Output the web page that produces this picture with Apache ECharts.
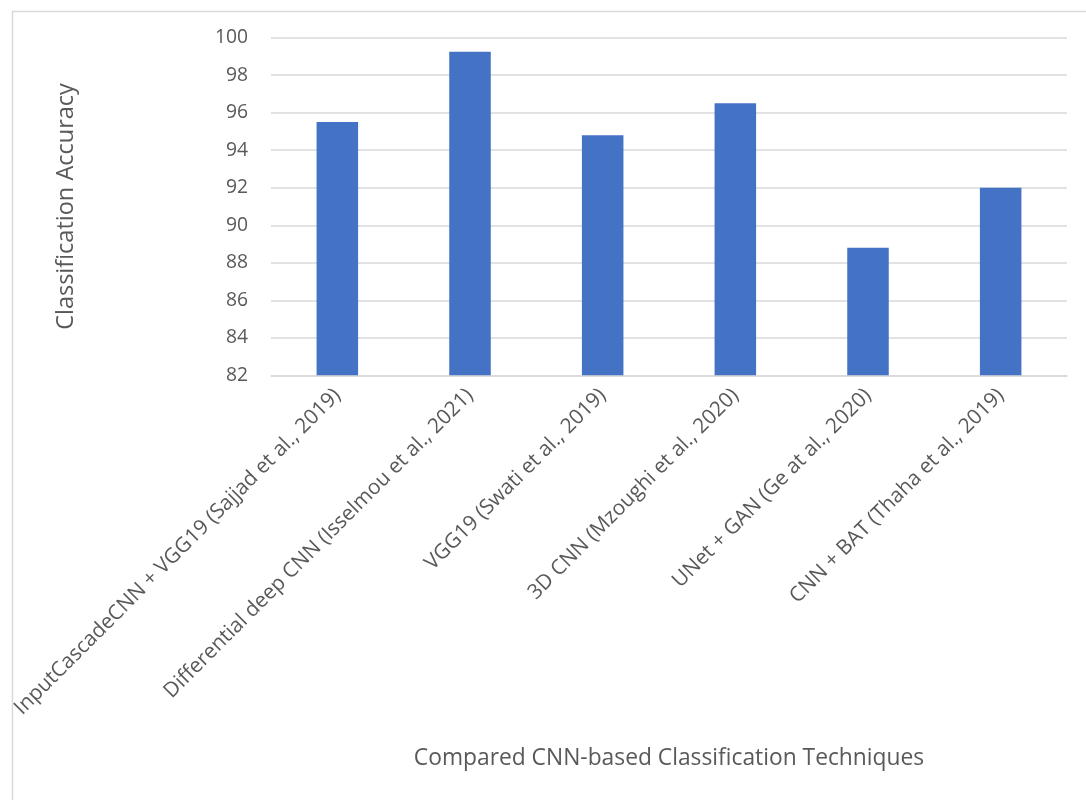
<!DOCTYPE html>
<html>
<head>
<meta charset="utf-8">
<script src="https://cdn.jsdelivr.net/npm/echarts@6/dist/echarts.min.js"></script>
<style>
html,body{margin:0;padding:0;background:#fff;}
#chart{width:1086px;height:800px;}
</style>
</head>
<body>
<div id="chart"></div>
<script>
const categories = [
  "InputCascadeCNN + VGG19 (Sajjad et al., 2019)",
  "Differential deep CNN (Isselmou et al., 2021)",
  "VGG19 (Swati et al., 2019)",
  "3D CNN (Mzoughi et al., 2020)",
  "UNet + GAN (Ge at al., 2020)",
  "CNN + BAT (Thaha et al., 2019)"
];
const accuracy = [95.5, 99.25, 94.8, 96.5, 88.8, 92.0];
const yTicks = [82, 84, 86, 88, 90, 92, 94, 96, 98, 100];

const FONT = "Open Sans";
const TXT = "#595959";
const chart = echarts.init(document.getElementById('chart'));
chart.setOption({
  animation: false,
  backgroundColor: '#ffffff',
  graphic: [{
    type: 'rect',
    left: 10, top: 9,
    shape: { width: 1200, height: 900 },
    style: { fill: 'none', stroke: '#d9d9d9', lineWidth: 1.5 },
    silent: true
  }],
  grid: { left: 271, right: 19, top: 37.7, bottom: 424.7, containLabel: false },
  xAxis: {
    type: 'category',
    data: categories,
    name: 'Compared CNN-based Classification Techniques',
    nameLocation: 'middle',
    nameGap: 372,
    nameTextStyle: { fontFamily: FONT, fontSize: 22.8, color: TXT },
    axisLine: { show: true, lineStyle: { color: '#d9d9d9', width: 1.5 } },
    axisTick: { show: false },
    axisLabel: {
      interval: 0, rotate: 45, margin: 17,
      fontFamily: FONT, fontSize: 20.8, color: TXT
    }
  },
  yAxis: {
    type: 'value',
    min: yTicks[0], max: yTicks[yTicks.length - 1], interval: 2,
    name: 'Classification Accuracy',
    nameLocation: 'middle',
    nameGap: 193,
    nameRotate: 90,
    nameTextStyle: { fontFamily: FONT, fontSize: 23.5, color: TXT },
    axisLine: { show: false },
    axisTick: { show: false },
    axisLabel: { margin: 23, fontFamily: FONT, fontSize: 19.3, color: TXT },
    splitLine: { lineStyle: { color: '#d9d9d9', width: 1.5 } }
  },
  series: [{
    type: 'bar',
    data: accuracy,
    barWidth: '31.3%',
    itemStyle: { color: '#4472C4' }
  }]
});
</script>
</body>
</html>
